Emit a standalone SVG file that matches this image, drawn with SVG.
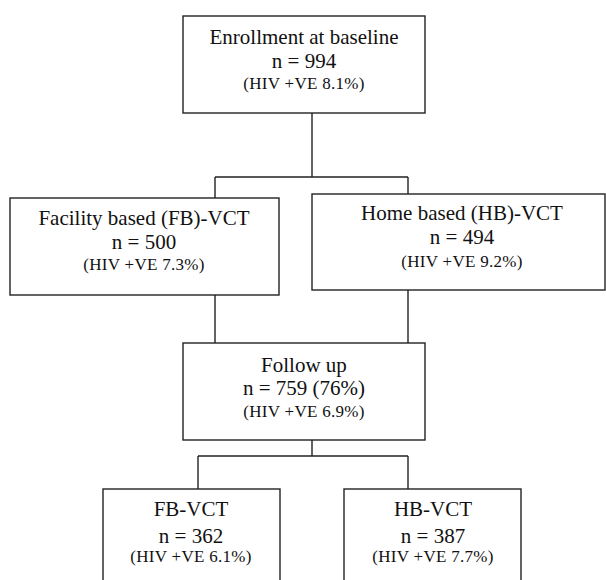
<svg xmlns="http://www.w3.org/2000/svg" width="606" height="580" viewBox="0 0 606 580">
<style>
.box{fill:#fff;stroke:#222;stroke-width:1.4}
.ln{fill:none;stroke:#222;stroke-width:1.4}
text{font-family:"Liberation Serif","Times New Roman",serif;fill:#111;text-anchor:middle}
.t{font-size:21px}
.s{font-size:17px;letter-spacing:0.3px}
</style>
<rect width="606" height="580" fill="#fff"/>
<g id="connectors">
<path class="ln" d="M312,113 V177 M215,177 H408 M215,177 V198 M408,177 V194"/>
<path class="ln" d="M215,295 V343 M408,290 V343"/>
<path class="ln" d="M312,440 V456 M198,456 H408 M198,456 V489 M408,456 V489"/>
</g>
<g id="enrollment">
<rect class="box" x="183" y="16" width="242" height="97"/>
<text class="t" x="304" y="44">Enrollment at baseline</text>
<text class="t" x="304" y="68">n = 994</text>
<text class="s" x="304" y="89">(HIV +VE 8.1%)</text>
</g>
<g id="fb">
<rect class="box" x="10" y="198" width="269" height="97"/>
<text class="t" x="144" y="225">Facility based (FB)-VCT</text>
<text class="t" x="144" y="249">n = 500</text>
<text class="s" x="144" y="270">(HIV +VE 7.3%)</text>
</g>
<g id="hb">
<rect class="box" x="312" y="194" width="293" height="96"/>
<text class="t" x="462" y="220">Home based (HB)-VCT</text>
<text class="t" x="462" y="244">n = 494</text>
<text class="s" x="462" y="267">(HIV +VE 9.2%)</text>
</g>
<g id="followup">
<rect class="box" x="183" y="343" width="242" height="97"/>
<text class="t" x="304" y="372">Follow up</text>
<text class="t" x="304" y="395">n = 759 (76%)</text>
<text class="s" x="304" y="417">(HIV +VE 6.9%)</text>
</g>
<g id="fbvct">
<rect class="box" x="103" y="489" width="177" height="100"/>
<text class="t" x="191" y="516">FB-VCT</text>
<text class="t" x="191" y="543">n = 362</text>
<text class="s" x="191" y="562">(HIV +VE 6.1%)</text>
</g>
<g id="hbvct">
<rect class="box" x="344" y="489" width="177" height="100"/>
<text class="t" x="433" y="516">HB-VCT</text>
<text class="t" x="433" y="543">n = 387</text>
<text class="s" x="433" y="562">(HIV +VE 7.7%)</text>
</g>
</svg>
